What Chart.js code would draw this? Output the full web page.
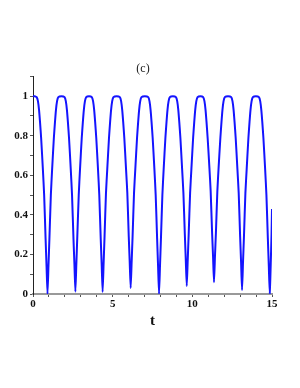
<!DOCTYPE html>
<html>
<head>
<meta charset="utf-8">
<script src="https://cdn.jsdelivr.net/npm/chart.js@4"></script>
<style>
html, body { margin: 0; padding: 0; background: #fff; }
#wrap { width: 300px; height: 388px; position: relative; }
</style>
</head>
<body>
<div id="wrap"><canvas id="plot"></canvas></div>
<script>
// values, one period per line
const tValues = [
	0, 0.1, 0.23, 0.31, 0.38, 0.44, 0.51, 0.62, 0.70, 0.79, 0.85, 0.91,
	0.97, 1.03, 1.12, 1.20, 1.31, 1.38, 1.44, 1.51, 1.59, 1.785, 1.98, 2.06, 2.13, 2.19, 2.26, 2.37, 2.45, 2.54, 2.60, 2.66,
	2.72, 2.78, 2.87, 2.95, 3.06, 3.13, 3.19, 3.26, 3.34, 3.515, 3.69, 3.77, 3.84, 3.90, 3.97, 4.08, 4.16, 4.25, 4.31, 4.37,
	4.43, 4.49, 4.58, 4.66, 4.77, 4.84, 4.90, 4.97, 5.05, 5.25, 5.45, 5.53, 5.60, 5.66, 5.73, 5.84, 5.92, 6.01, 6.07, 6.13,
	6.19, 6.25, 6.34, 6.42, 6.53, 6.60, 6.66, 6.73, 6.81, 7.02, 7.23, 7.31, 7.38, 7.44, 7.51, 7.62, 7.70, 7.79, 7.85, 7.91,
	7.97, 8.03, 8.12, 8.20, 8.31, 8.38, 8.44, 8.51, 8.59, 8.78, 8.97, 9.05, 9.12, 9.18, 9.25, 9.36, 9.44, 9.53, 9.59, 9.65,
	9.71, 9.77, 9.86, 9.94, 10.05, 10.12, 10.18, 10.25, 10.33, 10.505, 10.68, 10.76, 10.83, 10.89, 10.96, 11.07, 11.15, 11.24, 11.30, 11.36,
	11.42, 11.48, 11.57, 11.65, 11.76, 11.83, 11.89, 11.96, 12.04, 12.24, 12.44, 12.52, 12.59, 12.65, 12.72, 12.83, 12.91, 13.00, 13.06, 13.12,
	13.18, 13.24, 13.33, 13.41, 13.52, 13.59, 13.65, 13.72, 13.80, 13.99, 14.18, 14.26, 14.33, 14.39, 14.46, 14.57, 14.65, 14.74, 14.80, 14.86,
	14.92, 14.97, 15.0
];
const yValues = [
	1.0, 1.0, 0.995, 0.975, 0.93, 0.87, 0.79, 0.63, 0.50, 0.28, 0.14, 0.0,
	0.14, 0.28, 0.50, 0.63, 0.79, 0.87, 0.93, 0.975, 0.995, 1.0, 0.995, 0.975, 0.93, 0.87, 0.79, 0.63, 0.50, 0.28, 0.15, 0.012,
	0.15, 0.29, 0.50, 0.63, 0.79, 0.87, 0.93, 0.975, 0.995, 1.0, 0.995, 0.975, 0.93, 0.87, 0.79, 0.63, 0.50, 0.28, 0.15, 0.01,
	0.15, 0.29, 0.51, 0.63, 0.79, 0.87, 0.93, 0.975, 0.995, 1.0, 0.995, 0.975, 0.93, 0.87, 0.79, 0.63, 0.51, 0.29, 0.16, 0.03,
	0.16, 0.29, 0.51, 0.63, 0.79, 0.87, 0.93, 0.975, 0.995, 1.0, 0.995, 0.975, 0.93, 0.87, 0.79, 0.63, 0.50, 0.28, 0.14, 0.0,
	0.14, 0.28, 0.50, 0.63, 0.79, 0.87, 0.93, 0.975, 0.995, 1.0, 0.995, 0.975, 0.93, 0.87, 0.79, 0.63, 0.51, 0.30, 0.17, 0.04,
	0.17, 0.30, 0.51, 0.63, 0.79, 0.87, 0.93, 0.975, 0.995, 1.0, 0.995, 0.975, 0.93, 0.87, 0.79, 0.64, 0.52, 0.31, 0.19, 0.06,
	0.19, 0.31, 0.52, 0.64, 0.79, 0.87, 0.93, 0.975, 0.995, 1.0, 0.995, 0.975, 0.93, 0.87, 0.79, 0.63, 0.51, 0.29, 0.16, 0.02,
	0.16, 0.29, 0.51, 0.63, 0.79, 0.87, 0.93, 0.975, 0.995, 1.0, 0.995, 0.975, 0.93, 0.87, 0.79, 0.63, 0.50, 0.28, 0.14, 0.0,
	0.15, 0.30, 0.43
];
const xTickLabels = ['0', '5', '10', '15'];
const yTickLabels = ['0', '0.2', '0.4', '0.6', '0.8', '1'];

const points = tValues.map((t, i) => ({x: t, y: yValues[i]}));
const tickFont = {family: 'Liberation Serif', size: 11, weight: 'bold'};

const config = {
	type: 'line',
	data: {
		datasets: [{
			data: points,
			borderColor: '#1414ff',
			borderWidth: 2,
			pointRadius: 0,
			tension: 0.2,
			fill: false
		}]
	},
	options: {
		responsive: false,
		animation: false,
		layout: {padding: {left: 14, top: 0, right: 28, bottom: 58}},
		plugins: {
			legend: {display: false},
			tooltip: {enabled: false},
			title: {
				display: true,
				text: '(c)',
				color: '#222',
				font: {family: 'Liberation Serif', size: 12, weight: 'normal', lineHeight: 1.2},
				padding: {top: 62, bottom: 0}
			}
		},
		scales: {
			x: {
				type: 'linear',
				min: 0,
				max: 15,
				afterFit: s => { s.height = 36; },
				border: {color: '#999', width: 2},
				grid: {drawOnChartArea: false, tickLength: 3, color: '#555'},
				ticks: {
					stepSize: 1,
					padding: 1,
					color: '#111',
					font: tickFont,
					maxRotation: 0,
					autoSkip: false,
					callback: v => {
						const lab = String(Math.round(v));
						return xTickLabels.includes(lab) && Math.abs(v - Math.round(v)) < 1e-6 ? lab : '';
					}
				},
				title: {
					display: true,
					text: 't',
					color: '#111',
					font: {family: 'Liberation Serif', size: 15, weight: 'bold', lineHeight: 1.2},
					padding: {top: 0, bottom: 0}
				}
			},
			y: {
				type: 'linear',
				min: 0,
				max: 1.1,
				afterFit: s => { s.width = 19; },
				border: {color: '#222', width: 1},
				grid: {drawOnChartArea: false, tickLength: 3, color: '#555'},
				ticks: {
					stepSize: 0.1,
					padding: 2,
					color: '#111',
					font: tickFont,
					autoSkip: false,
					callback: v => {
						const lab = String(Math.round(v * 10) / 10);
						return yTickLabels.includes(lab) ? lab : '';
					}
				}
			}
		}
	}
};

const canvas = document.getElementById('plot');
canvas.width = 300;
canvas.height = 388;
new Chart(canvas, config);
</script>
</body>
</html>
